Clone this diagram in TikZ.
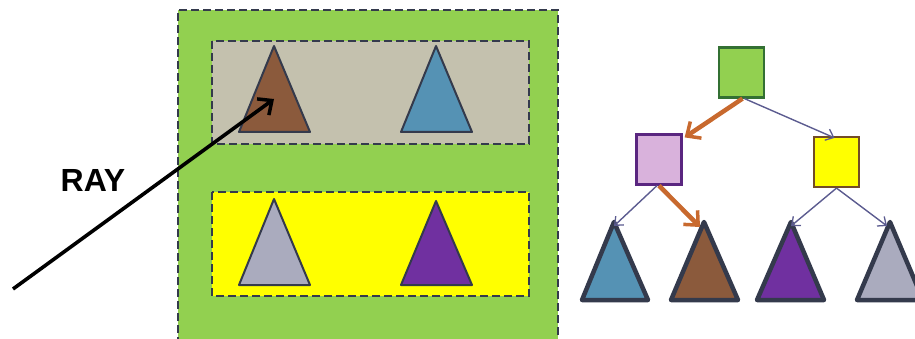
\documentclass[tikz,border=0pt]{standalone}
\usepackage{fontspec}
\setmainfont{Liberation Sans}
\usetikzlibrary{arrows.meta}

\definecolor{leafgreen}{HTML}{92D050}
\definecolor{boxgray}{HTML}{C4C1AE}
\definecolor{boxyellow}{HTML}{FFFF00}
\definecolor{tribrown}{HTML}{8B5A3C}
\definecolor{triblue}{HTML}{5592B4}
\definecolor{trigray}{HTML}{AAABBE}
\definecolor{tripurple}{HTML}{7030A0}
\definecolor{nodepink}{HTML}{D9B2DC}
\definecolor{pathorange}{HTML}{C8692E}
\definecolor{edgeslate}{HTML}{5C5C90}
\definecolor{outline}{HTML}{343A4C}

\begin{document}
\begin{tikzpicture}[
  x=1pt, y=-1pt,
  bvh/.style={draw=outline, line width=2.4pt, dash pattern=on 8pt off 4pt},
  sceneTri/.style={draw=outline, line width=2pt, line join=round},
  treeTri/.style={draw=outline, line width=4.5pt, line join=round},
  bvnode/.style={draw, line width=2.2pt, minimum width=45pt, minimum height=50pt, inner sep=0pt},
  hot/.style={-{Straight Barb[length=11pt, width=20pt, line width=3.5pt]}, line width=4.5pt, pathorange},
  cold/.style={-{Straight Barb[length=7pt, width=12pt, line width=1.3pt]}, line width=1.4pt, edgeslate},
  ray/.style={-{Straight Barb[length=11pt, width=20pt, line width=3.5pt]}, line width=3.6pt, black}]
\useasboundingbox (0,0) rectangle (915,339);
\clip (0,0) rectangle (915,339);
% scene with bounding volumes
\fill[leafgreen] (178,10) rectangle (558,345);
\draw[bvh] (178,345) -- (178,10) -- (558,10) -- (558,345);
\filldraw[bvh, fill=boxgray] (212,41) rectangle (529,144);
\filldraw[bvh, fill=boxyellow] (212,192) rectangle (529,296);
\filldraw[sceneTri, fill=tribrown] (274,46) -- (310,132) -- (239,132) -- cycle;
\filldraw[sceneTri, fill=triblue] (436,46) -- (472,132) -- (401,132) -- cycle;
\filldraw[sceneTri, fill=trigray] (274,199) -- (310,285) -- (239,285) -- cycle;
\filldraw[sceneTri, fill=tripurple] (436,201) -- (472,285) -- (401,285) -- cycle;
% the ray
\coordinate (rs) at (13,289);
\coordinate (hit) at (274,99);
\draw[ray] (rs) -- (hit);
\node[font=\bfseries\fontsize{32}{32}\selectfont] (lbl) at (93,180) {RAY};
% hierarchy
\node[bvnode, fill=leafgreen, draw=green!30!black!80] (root) at (741.5,72.5) {};
\node[bvnode, fill=nodepink, draw=tripurple!80!black] (lft) at (659,159.5) {};
\node[bvnode, fill=boxyellow, draw=brown!60!black] (rgt) at (836.5,162) {};
\coordinate (l1) at (614,222);
\coordinate (l2) at (704,222);
\coordinate (l3) at (791,222);
\coordinate (l4) at (890,222);
\filldraw[treeTri, fill=triblue] (l1) -- (648,300) -- (582,300) -- cycle;
\filldraw[treeTri, fill=tribrown] (l2) -- (738,300) -- (671,300) -- cycle;
\filldraw[treeTri, fill=tripurple] (l3) -- (824,300) -- (757,300) -- cycle;
\filldraw[treeTri, fill=trigray] (l4) -- (923,300) -- (857,300) -- cycle;
\draw[hot] ([xshift=1pt]root.south) -- ([xshift=2pt,yshift=-4pt]lft.north east);
\draw[cold] ([xshift=3pt]root.south) -- ([xshift=-2pt,yshift=-2pt]rgt.north);
\draw[cold] ([xshift=-2pt]lft.south) -- ([yshift=-4pt]l1);
\draw[hot] (lft.south) -- ([xshift=-4pt,yshift=-5pt]l2);
\draw[cold] (rgt.south) -- ([yshift=-4pt]l3);
\draw[cold] (rgt.south) -- ([xshift=-3pt,yshift=-4pt]l4);
\end{tikzpicture}
\end{document}
